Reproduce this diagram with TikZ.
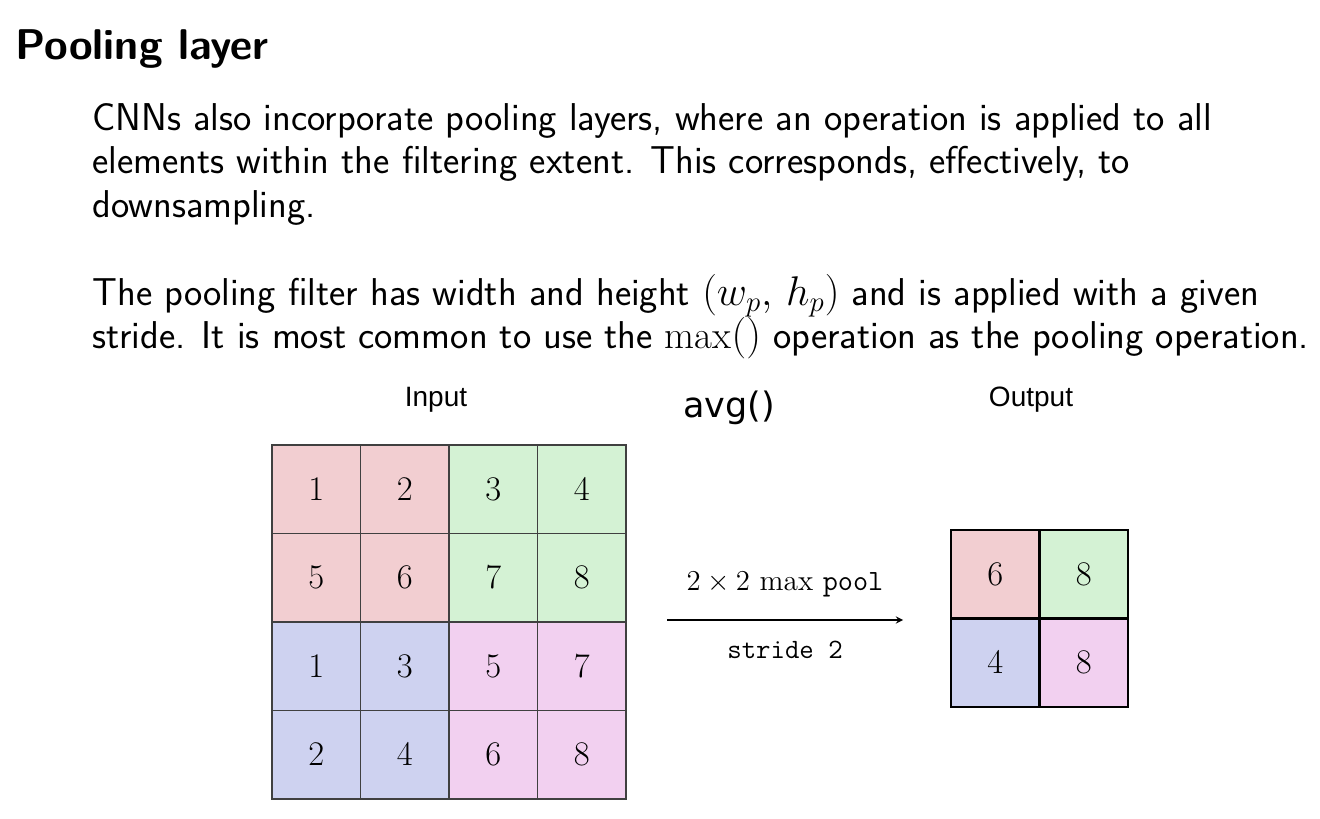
\documentclass[tikz,border=0pt]{standalone}
\usepackage{fontspec}
\newfontfamily\helv{Liberation Sans}
\newfontfamily\hand{DejaVu Sans}
\usetikzlibrary{positioning}
\DeclareMathSizes{19.4}{19.4}{15.5}{12}

\definecolor{pr}{RGB}{242,206,209}
\definecolor{pg}{RGB}{212,242,212}
\definecolor{pb}{RGB}{206,210,240}
\definecolor{pm}{RGB}{242,208,240}

\tikzset{
  cell/.style={draw=black!75,line width=0.7pt,minimum size=44.25pt,inner sep=0pt,
    font=\fontsize{19}{19}\selectfont},
  ocell/.style={cell,draw=black,line width=1.1pt},
  body/.style={anchor=base west,inner sep=0pt,font=\sffamily\fontsize{19.4}{22}\selectfont},
  lbl/.style={inner sep=0pt,font=\helv\fontsize{14}{14}\selectfont}
}

\begin{document}
\begin{tikzpicture}[x=0.5pt,y=-0.5pt]
\useasboundingbox (0,0) rectangle (1320,818);

% Titre
\node[anchor=base west,inner sep=0pt,font=\sffamily\bfseries\fontsize{21.5}{24}\selectfont]
  (title) at (15,60) {Pooling layer};

% Texte
\node[body] (p1a) at (92,131) {CNNs also incorporate pooling layers, where an operation is applied to all};
\node[body] (p1b) at (92,174) {elements within the filtering extent.  This corresponds, effectively, to};
\node[body] (p1c) at (92,217) {downsampling.};
\node[body] (p2a) at (92,305) {The pooling filter has width and height $(w_p,\,h_p)$ and is applied with a given};
\node[body] (p2b) at (92,348) {stride.  It is most common to use the $\max()$ operation as the pooling operation.};

% Titres des grilles
\node[lbl] (inlbl) at (436,400) {Input};
\node[lbl] (outlbl) at (1031,400) {Output};
\node[inner sep=0pt,font=\hand\fontsize{17.5}{18}\selectfont] (avg) at (729,408) {avg()};

% Grille d'entree
\foreach \v/\col [count=\i from 0] in {1/pr,2/pr,3/pg,4/pg,5/pr,6/pr,7/pg,8/pg,
                                       1/pb,3/pb,5/pm,7/pm,2/pb,4/pb,6/pm,8/pm} {
  \pgfmathtruncatemacro\r{div(\i,4)}
  \pgfmathtruncatemacro\c{mod(\i,4)}
  \node[cell,fill=\col] (in-\r-\c) at (316.25+88.5*\c,489.25+88.5*\r) {$\v$};
}

% Grille de sortie
\foreach \v/\col [count=\i from 0] in {6/pr,8/pg,4/pb,8/pm} {
  \pgfmathtruncatemacro\r{div(\i,2)}
  \pgfmathtruncatemacro\c{mod(\i,2)}
  \node[ocell,fill=\col] (out-\r-\c) at (995.25+88.5*\c,574.25+88.5*\r) {$\v$};
}

% Fleche
\coordinate (aL) at (667,620);
\coordinate (aR) at (903,620);
\draw[->,>=stealth,line width=0.6pt] (aL) -- (aR);
\node[inner sep=0pt,font=\fontsize{14.7}{15}\selectfont] (op) at (785,584)
  {$2\times2$ $\max$ \texttt{pool}};
\node[inner sep=0pt,font=\fontsize{14}{15}\selectfont] (st) at (785,650)
  {\texttt{stride 2}};

\end{tikzpicture}
\end{document}
